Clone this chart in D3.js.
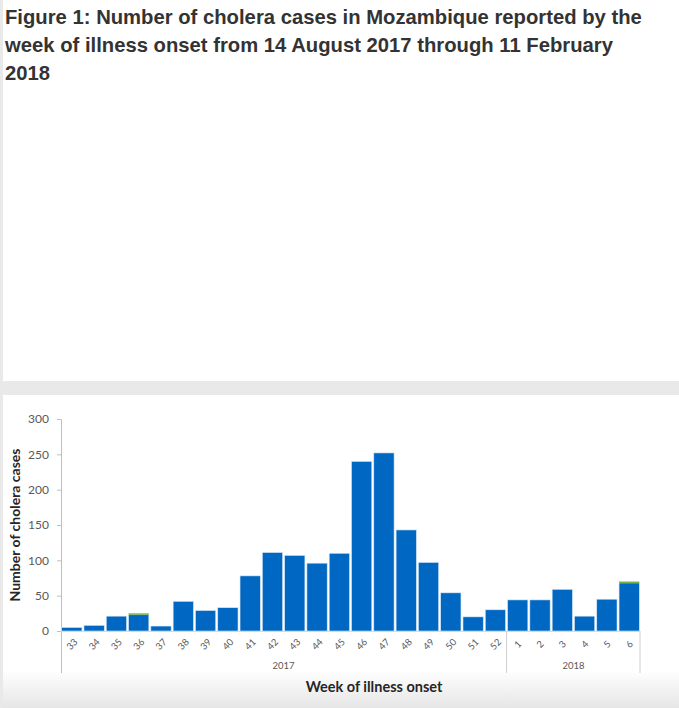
<!DOCTYPE html>
<html><head><meta charset="utf-8">
<script src="https://cdn.jsdelivr.net/npm/d3@7"></script>
<style>html,body{margin:0;padding:0;background:#fff;}svg{display:block;}</style>
</head><body>
<svg id="c" width="679" height="708"></svg>
<script>
const weeks = ["33","34","35","36","37","38","39","40","41","42","43","44","45","46","47","48","49","50","51","52","1","2","3","4","5","6"];
const confirmed = [5,8,21,23,7,42,29,33,78,111,107,96,110,240,252,143,97,54,20,30,44,44,59,21,45,68];
const other =     [0,0,0,2,0,0,0,0,0,0,0,0,0,0,0,0,0,0,0,0,0,0,0,0,0,2];
const years = [{label:"2017", from:"33", to:"52"},{label:"2018", from:"1", to:"6"}];
const yTicks = [0,50,100,150,200,250,300];
const titleLines = ["Figure 1: Number of cholera cases in Mozambique reported by the",
                    "week of illness onset from 14 August 2017 through 11 February",
                    "2018"];

const svg = d3.select("#c");
const defs = svg.append("defs");
const g1 = defs.append("linearGradient").attr("id","bot").attr("x1",0).attr("y1",0).attr("x2",0).attr("y2",1);
g1.append("stop").attr("offset","0%").attr("stop-color","#ffffff");
g1.append("stop").attr("offset","100%").attr("stop-color","#e6e6e6");
svg.append("rect").attr("x",0).attr("y",0).attr("width",679).attr("height",708).attr("fill","#e9e9e9");
svg.append("rect").attr("x",3).attr("y",0).attr("width",676).attr("height",381).attr("fill","#ffffff");
svg.append("rect").attr("x",3).attr("y",395).attr("width",676).attr("height",313).attr("fill","#ffffff");
svg.append("rect").attr("x",3).attr("y",670).attr("width",676).attr("height",38).attr("fill","url(#bot)");

// title (slightly condensed to match the reference)
const tg = svg.append("g");
titleLines.forEach((t,i)=>{
  tg.append("text").attr("x",0).attr("y",24+i*28).text(t)
    .attr("font-family","Liberation Sans, Arial, sans-serif").attr("font-weight","bold")
    .attr("font-size",19.5).attr("fill","#333");
});
const w0 = tg.select("text").node().getComputedTextLength();
tg.attr("transform",`translate(5,0) scale(${637/w0},1)`);

// chart
const x = d3.scaleBand().domain(weeks).range([61,640]).paddingInner(0.09).paddingOuter(0.03);
const y = d3.scaleLinear().domain([0,300]).range([631,419]);

const yAxis = svg.append("g").attr("transform","translate(61,0)")
  .call(d3.axisLeft(y).tickValues(yTicks).tickSize(4).tickPadding(8));
yAxis.select(".domain").attr("stroke","#bfbfbf").attr("d","M-4,419.5H0.5V673");
yAxis.selectAll(".tick line").attr("stroke","#bfbfbf");
yAxis.selectAll(".tick text").attr("font-family","Lato, 'Open Sans', sans-serif").attr("font-size",12).attr("fill","#595959");

// bars
svg.append("g").selectAll("rect").data(weeks).join("rect")
  .attr("x",d=>x(d)).attr("width",x.bandwidth())
  .attr("y",(d,i)=>y(confirmed[i])).attr("height",(d,i)=>y(0)-y(confirmed[i]))
  .attr("fill","#0068c3").attr("stroke","#d6e6f5").attr("stroke-width",0.6);
svg.append("g").selectAll("rect").data(weeks).join("rect")
  .attr("x",d=>x(d)).attr("width",x.bandwidth())
  .attr("y",(d,i)=>y(confirmed[i]+other[i])).attr("height",(d,i)=>y(confirmed[i])-y(confirmed[i]+other[i]))
  .attr("fill","#70ad47");

svg.append("line").attr("x1",61).attr("x2",640).attr("y1",631.5).attr("y2",631.5).attr("stroke","#d9d9d9");

// x tick labels
svg.append("g").selectAll("text").data(weeks).join("text")
  .attr("transform",d=>`translate(${x(d)+x.bandwidth()/2},644) rotate(-45)`)
  .attr("text-anchor","middle").attr("dominant-baseline","central")
  .attr("font-family","Lato, 'Open Sans', sans-serif").attr("font-size",9.5).attr("fill","#595959")
  .text(d=>d);

// year groups
const step = x.step();
years.forEach(yr=>{
  const a = x(yr.from) - (step-x.bandwidth())/2, b = x(yr.to)+x.bandwidth()+(step-x.bandwidth())/2;
  svg.append("text").attr("x",(a+b)/2).attr("y",669).attr("text-anchor","middle")
    .attr("font-family","Lato, 'Open Sans', sans-serif").attr("font-size",9.5).attr("fill","#595959").text(yr.label);
});
[x("1")-(step-x.bandwidth())/2, 640].forEach(px=>{
  svg.append("line").attr("x1",px).attr("x2",px).attr("y1",631).attr("y2",673).attr("stroke","#d0d0d0");
});

// axis titles
svg.append("text").attr("x",374).attr("y",692).attr("text-anchor","middle")
  .attr("font-family","Lato, 'Open Sans', sans-serif").attr("font-weight","bold").attr("font-size",14.5).attr("fill","#262626")
  .text("Week of illness onset");
svg.append("text").attr("transform","translate(20,525) rotate(-90)").attr("text-anchor","middle")
  .attr("font-family","Lato, 'Open Sans', sans-serif").attr("font-weight","bold").attr("font-size",14).attr("fill","#262626")
  .text("Number of cholera cases");
</script>
</body></html>
